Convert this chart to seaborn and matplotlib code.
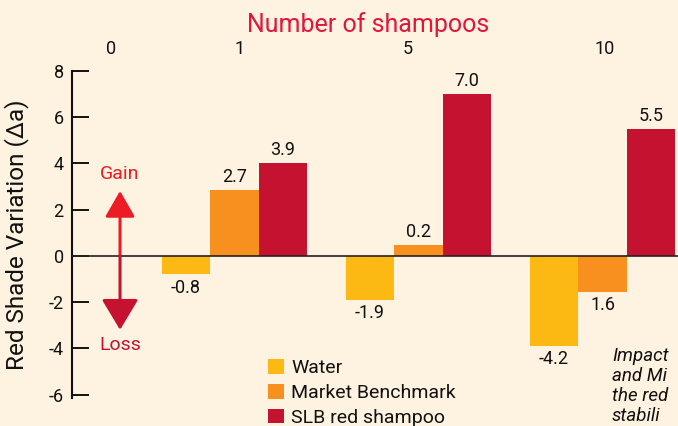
import numpy as np
import pandas as pd
import matplotlib.pyplot as plt
import seaborn as sns

# --------- data (bar heights as drawn; printed labels as in the source) ----------
shampoos = ["1", "5", "10"]
treatments = ["Water", "Market Benchmark", "SLB red shampoo"]
water = [-0.8, -1.9, -3.9]
market = [2.85, 0.48, -1.56]
slb = [4.0, 7.0, 5.5]
water_labels = ["-0.8", "-1.9", "-4.2"]
market_labels = ["2.7", "0.2", "1.6"]
slb_labels = ["3.9", "7.0", "5.5"]
top_labels = ["0", "1", "5", "10"]
yticks = [8, 6, 4, 2, 0, -2, -4, -6]
# caption is cropped at the right edge in the source; keep the visible part
note_lines = ["Impact", "and Mi", "the red", "stabili"]

BG = "#FEF2E0"
colors = ["#FDB913", "#F7901E", "#C41230"]
GAIN = "#EC1C24"
LOSS = "#C41230"

sns.set_theme(style="white", rc={"axes.facecolor": BG, "figure.facecolor": BG})
plt.rcParams["font.family"] = ["Roboto", "DejaVu Sans"]
plt.rcParams["axes.unicode_minus"] = False

df = pd.DataFrame({
    "shampoos": shampoos * len(treatments),
    "treatment": np.repeat(treatments, len(shampoos)),
    "delta_a": water + market + slb,
})

fig = plt.figure(figsize=(6.78, 4.26), dpi=100)
ax = fig.add_axes([72 / 678, 1 - 398 / 426, 1 - 72 / 678, (398 - 71) / 426])

sns.barplot(data=df, x="shampoos", y="delta_a", hue="treatment", order=shampoos,
            hue_order=treatments, palette=colors, saturation=1, width=0.79, gap=0,
            linewidth=0, errorbar=None, ax=ax)

ax.set_xlim(-0.883, 2.41)
ax.set_ylim(-6.15, 8)
ax.set_yticks(yticks)
ax.set_xticks([])
ax.set_xlabel("")
ax.tick_params(axis="y", direction="in", length=12, width=1.4, labelsize=13,
               pad=6, colors="#111111", left=True)
ax.set_ylabel("Red Shade Variation (Δa)", fontsize=17.5, color="#111111")
ax.yaxis.set_label_coords(-0.071, 0.5)
for s in ["top", "right", "bottom"]:
    ax.spines[s].set_visible(False)
ax.spines["left"].set_color("#111111")
ax.spines["left"].set_linewidth(1.5)
ax.axhline(0, color="#222222", lw=1.2, zorder=3)

# value labels
for cont, labs in zip(ax.containers, [water_labels, market_labels, slb_labels]):
    ax.bar_label(cont, labels=labs, padding=3, fontsize=13, color="#111111")

# top axis: number of shampoos
sec = ax.secondary_xaxis("top")
sec.set_xticks([-0.67, 0.03, 0.94, 2.01], top_labels)
sec.tick_params(length=0, pad=9, labelsize=13, colors="#111111")
sec.spines["top"].set_visible(False)
fig.text(368 / 678, 1 - 25 / 426, "Number of shampoos", color="#E2153A",
         fontsize=18, ha="center", va="center")

# gain / loss arrows
ax.annotate("", xy=(-0.622, 2.81), xytext=(-0.622, 0),
            arrowprops=dict(arrowstyle="-|>,head_length=16,head_width=9.2", mutation_scale=1,
                            lw=2.2, color=GAIN, shrinkA=0, shrinkB=0))
ax.annotate("", xy=(-0.622, -3.2), xytext=(-0.622, 0),
            arrowprops=dict(arrowstyle="-|>,head_length=19,head_width=11.4", mutation_scale=1,
                            lw=2.2, color=LOSS, shrinkA=0, shrinkB=0))
ax.text(-0.622, 3.55, "Gain", color=GAIN, ha="center", va="center", fontsize=14)
ax.text(-0.622, -3.85, "Loss", color=LOSS, ha="center", va="center", fontsize=14)

# legend
handles = ax.get_legend().legend_handles
ax.legend(handles, treatments, loc="upper left", bbox_to_anchor=(268 / 678, 1 - 359 / 426),
          bbox_transform=fig.transFigure, frameon=False, fontsize=14, handlelength=0.8,
          handleheight=0.8, handletextpad=0.4, labelspacing=0.34, borderpad=0,
          borderaxespad=0, labelcolor="#111111")

# caption at bottom right
for i, line in enumerate(note_lines):
    fig.text(612 / 678, 1 - (356 + 20 * i) / 426, line, style="italic", fontsize=13.5,
             ha="left", va="center", color="#111111")

fig.savefig("out.png", dpi=100, facecolor=BG)
